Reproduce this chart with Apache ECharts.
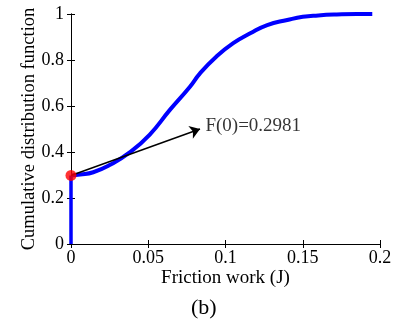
<!DOCTYPE html>
<html>
<head>
<meta charset="utf-8">
<script src="https://cdn.jsdelivr.net/npm/echarts@6/dist/echarts.min.js"></script>
<style>
  html, body { margin: 0; padding: 0; background: #fff; }
  #chart { width: 395px; height: 322px; }
</style>
</head>
<body>
<div id="chart"></div>
<script>
const cdfX = [0, 0.006, 0.0144, 0.025, 0.038, 0.051, 0.064, 0.077, 0.0835, 0.094, 0.105, 0.116, 0.127, 0.14, 0.15, 0.16, 0.172, 0.185, 0.195];
const cdfY = [0.2981, 0.302, 0.312, 0.343, 0.398, 0.476, 0.583, 0.684, 0.742, 0.814, 0.873, 0.916, 0.952, 0.974, 0.988, 0.994, 0.998, 1.0, 1.0];
// Atom at zero: the CDF jumps straight up from 0 to F(0).
const jumpX = [0, 0];
const jumpY = [0, 0.2981];
const xTicks = ["0", "0.05", "0.1", "0.15", "0.2"];
const yTicks = ["0", "0.2", "0.4", "0.6", "0.8", "1"];
const annotation = "F(0)=0.2981";
const arrowFrom = [0, 0.2981];
const arrowTo = [0.0835, 0.5];
const labelAt = [0.087, 0.515];

const font = "'Liberation Serif', 'Times New Roman', serif";
const zip = (xs, ys) => xs.map((x, i) => [x, ys[i]]);

const chart = echarts.init(document.getElementById("chart"));

const frameAxis = {
  axisLine: { show: true, lineStyle: { color: "#000", width: 1 } },
  axisTick: { show: true, inside: true, length: 4, lineStyle: { color: "#000" } },
  splitLine: { show: false },
};

chart.setOption({
  animation: false,
  backgroundColor: "#fff",
  textStyle: { fontFamily: font },
  grid: { left: 71, right: 15, top: 14, bottom: 78 },
  xAxis: [
    {
      ...frameAxis,
      type: "value", min: 0, max: 0.2, interval: 0.05,
      name: "Friction work (J)", nameLocation: "middle", nameGap: 25,
      nameMoveOverlap: false,
      nameTextStyle: { color: "#000", fontSize: 19, fontFamily: font },
      axisLabel: {
        color: "#000", fontSize: 18, fontFamily: font, margin: 5,
        formatter: (v) => xTicks[Math.round(v / 0.05)],
      },
    },
    {
      ...frameAxis,
      type: "value", min: 0, max: 0.2, interval: 0.05, position: "top",
      axisLabel: { show: false },
    },
  ],
  yAxis: [
    {
      ...frameAxis,
      type: "value", min: 0, max: 1, interval: 0.2,
      name: "Cumulative distribution function", nameLocation: "middle", nameGap: 32,
      nameMoveOverlap: false,
      nameTextStyle: { color: "#000", fontSize: 18.5, fontFamily: font },
      axisLabel: {
        color: "#000", fontSize: 18, fontFamily: font, margin: 7,
        formatter: (v) => yTicks[Math.round(v / 0.2)],
      },
    },
    {
      ...frameAxis,
      type: "value", min: 0, max: 1, interval: 0.2, position: "right",
      axisLabel: { show: false },
    },
  ],
  graphic: [
    {
      type: "text", left: 191, top: 297,
      style: { text: "(b)", fill: "#000", font: "22px " + font },
    },
  ],
  series: [
    {
      type: "line",
      data: zip(jumpX, jumpY),
      symbol: "none",
      lineStyle: { color: "#0000ff", width: 3.5 },
    },
    {
      type: "line",
      data: zip(cdfX, cdfY),
      smooth: true,
      symbol: "none",
      lineStyle: { color: "#0000ff", width: 4 },
      markLine: {
        silent: true,
        symbol: ["none", "arrow"],
        symbolSize: 10,
        label: { show: false },
        lineStyle: { color: "#000", width: 1.5, type: "solid" },
        data: [[{ coord: arrowFrom }, { coord: arrowTo }]],
      },
    },
    {
      type: "scatter",
      data: [arrowFrom],
      symbolSize: 11,
      itemStyle: { color: "#ff0000" },
      z: 5,
    },
    {
      type: "scatter",
      data: [labelAt],
      symbolSize: 0,
      label: {
        show: true, position: "right", distance: 0,
        formatter: () => annotation,
        color: "#000", fontSize: 19, fontFamily: font,
      },
    },
  ],
});
</script>
</body>
</html>
